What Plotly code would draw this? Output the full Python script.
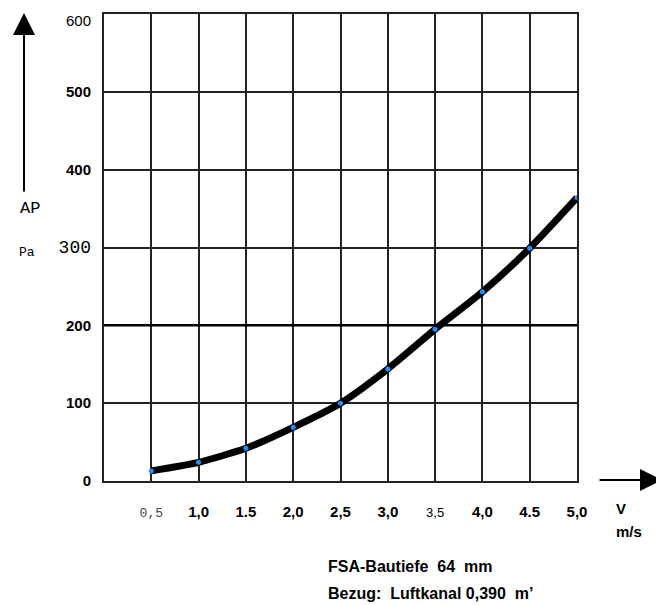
import plotly.graph_objects as go

# Data
velocity = [0.5, 1.0, 1.5, 2.0, 2.5, 3.0, 3.5, 4.0, 4.5, 5.0]
pressure = [13, 24, 42, 69, 100, 144, 195, 243, 299, 364]

x_tickvals = [0.5, 1.0, 1.5, 2.0, 2.5, 3.0, 3.5, 4.0, 4.5, 5.0]
x_ticktext = ["0,5", "1,0", "1.5", "2,0", "2,5", "3,0", "3,5", "4,0", "4.5", "5,0"]
y_tickvals = [0, 100, 200, 300, 400, 500, 600]
y_ticktext = ["0", "100", "200", "300", "400", "500", "600"]

OFF = 8  # page body margin
W, H = 664 - OFF, 605 - OFF
L, T = 104 - OFF, 14 - OFF
R = W - (577 - OFF)
B = H - (481 - OFF)
pw, ph = W - L - R, H - T - B

def px(xp):
    return (xp - OFF - L) / pw

def py(yp):
    return (H - B - (yp - OFF)) / ph

mono = "Liberation Mono, Courier New, monospace"
narrow = "Liberation Sans Narrow, Liberation Sans, Arial, sans-serif"

xt = []
for t in x_ticktext:
    if t == "0,5":
        xt.append('<span style="font-family:Liberation Mono;font-weight:normal;font-size:13px;fill:#444">0,5</span>')
    elif t == "3,5":
        xt.append('<span style="font-family:Liberation Sans;font-size:13px">3,5</span>')
    else:
        xt.append("<b>" + t + "</b>")

yt = []
top_label = None
for v, t in zip(y_tickvals, y_ticktext):
    if v == max(y_tickvals):
        # top label is drawn slightly below the top edge (as in the original)
        top_label = (v, t)
        yt.append("")
    elif t == "300":
        yt.append('<span style="font-family:Liberation Mono;font-size:18px">300</span>')
    else:
        yt.append("<b>" + t + "</b>")

fig = go.Figure()
fig.add_trace(go.Scatter(
    x=velocity, y=pressure, mode="lines+markers",
    line=dict(color="black", width=7, shape="spline", smoothing=0.6),
    marker=dict(color="#1e90ff", size=5),
    showlegend=False, hoverinfo="skip",
))

annotations = [
    # y-axis arrow
    dict(xref="paper", yref="paper", x=px(24), y=py(13), ax=0, ay=180,
         showarrow=True, arrowhead=2, arrowsize=2.2, arrowwidth=2,
         arrowcolor="black", text=""),
    # x-axis arrow
    dict(xref="paper", yref="paper", x=px(662), y=py(480), ax=-64, ay=0,
         showarrow=True, arrowhead=2, arrowsize=2.2, arrowwidth=2,
         arrowcolor="black", text=""),
    dict(xref="paper", yref="paper", x=px(30), y=py(208), text="AP",
         showarrow=False, font=dict(family=mono, size=17, color="black"),
         xanchor="center", yanchor="middle"),
    dict(xref="paper", yref="paper", x=px(27), y=py(252), text="Pa",
         showarrow=False, font=dict(family=mono, size=13, color="black"),
         xanchor="center", yanchor="middle"),
    dict(xref="paper", yref="paper", x=px(621), y=py(508), text="<b>V</b>",
         showarrow=False, font=dict(family=narrow, size=15, color="black"),
         xanchor="center", yanchor="middle"),
    dict(xref="paper", yref="paper", x=px(629), y=py(531), text="<b>m/s</b>",
         showarrow=False, font=dict(family=narrow, size=15, color="black"),
         xanchor="center", yanchor="middle"),
    dict(xref="paper", yref="paper", x=px(326), y=py(566),
         text="<b>FSA-Bautiefe  64  mm</b>",
         showarrow=False, font=dict(family=narrow, size=16, color="black"),
         xanchor="left", yanchor="middle"),
    dict(xref="paper", yref="paper", x=px(326), y=py(593),
         text="<b>Bezug:  Luftkanal 0,390  m’</b>",
         showarrow=False, font=dict(family=narrow, size=16, color="black"),
         xanchor="left", yanchor="middle"),
]
if top_label is not None:
    annotations.append(dict(
        xref="paper", yref="y", x=px(93), y=top_label[0], yshift=-6,
        text=top_label[1], showarrow=False,
        font=dict(family="Liberation Sans", size=15, color="black"),
        xanchor="right", yanchor="middle"))

fig.update_layout(
    width=W, height=H,
    margin=dict(l=L, r=R, t=T, b=B, autoexpand=False),
    paper_bgcolor="white", plot_bgcolor="white",
    font=dict(family=narrow, size=14, color="black"),
    xaxis=dict(
        range=[0, 5.0], tickvals=x_tickvals, ticktext=xt,
        showgrid=True, gridcolor="#222", gridwidth=2,
        showline=True, linecolor="#222", linewidth=2, mirror=True,
        zeroline=False, ticks="", ticklabelstandoff=16,
        ticklabeloverflow="allow", automargin=False,
        tickfont=dict(family=narrow, size=15, color="black"),
        fixedrange=True,
    ),
    yaxis=dict(
        range=[0, 600], tickvals=y_tickvals, ticktext=yt,
        showgrid=True, gridcolor="#222", gridwidth=2,
        showline=True, linecolor="#222", linewidth=2, mirror=True,
        zeroline=False, ticks="", ticklabelstandoff=8,
        ticklabeloverflow="allow", automargin=False,
        tickfont=dict(family=narrow, size=15, color="black"),
        fixedrange=True,
    ),
    shapes=[
        dict(type="line", xref="x", yref="y", x0=0, x1=5.0, y0=200, y1=200,
             line=dict(color="black", width=2.5)),
    ],
    annotations=annotations,
)

fig.write_html("out.html")
